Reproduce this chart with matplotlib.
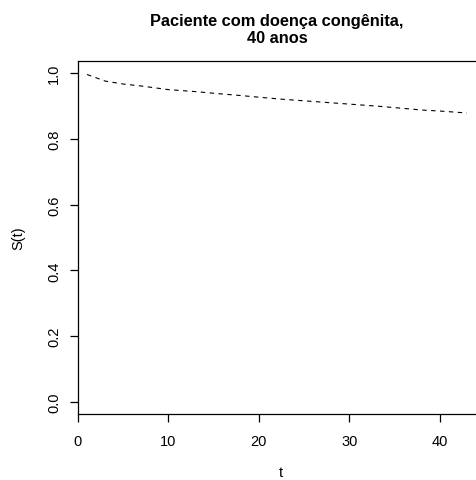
import matplotlib
matplotlib.use('Agg')
import matplotlib.pyplot as plt

plt.rcParams['font.family'] = ['Liberation Sans', 'DejaVu Sans']

# curva de sobrevivência
t = [1, 2, 3, 5, 7, 10, 13, 15, 18, 20, 22.5, 25, 28, 30, 33, 36, 38, 40, 43]
s = [0.995, 0.985, 0.975, 0.966, 0.960, 0.949, 0.943, 0.938, 0.931, 0.926,
     0.920, 0.915, 0.909, 0.905, 0.899, 0.892, 0.887, 0.884, 0.878]

xticks = [0, 10, 20, 30, 40]
yticks = [0.0, 0.2, 0.4, 0.6, 0.8, 1.0]

fig = plt.figure(figsize=(4.76, 4.81), dpi=100)
ax = fig.add_axes([78 / 476, 66 / 481, 398 / 476, 353 / 481])

ax.plot(t, s, color='black', lw=0.8, linestyle=(0, (4, 4)))

ax.set_xlim(0, 44)
ax.set_ylim(-0.0365, 1.036)
ax.set_xticks(xticks)
ax.set_xticklabels([str(v) for v in xticks])
ax.set_yticks(yticks)
ax.set_yticklabels(['%.1f' % v for v in yticks], rotation=90, va='center')

for side in ['left', 'bottom', 'top']:
    ax.spines[side].set_linewidth(0.9)
ax.spines['right'].set_visible(False)

ax.tick_params(axis='both', direction='out', length=5.8, width=0.9,
               labelsize=10.5, colors='black')
ax.tick_params(axis='x', pad=8.5)
ax.tick_params(axis='y', pad=6.5)

ax.set_xlabel('t', fontsize=10.5, va='center')
ax.xaxis.set_label_coords(0.51, -0.163)
ax.set_ylabel('S(t)', fontsize=10.5, va='center')
ax.yaxis.set_label_coords(-0.151, 0.5)

ax.set_title('Paciente com doença congênita,\n40 anos', fontsize=11.8,
             fontweight='bold', pad=14, linespacing=1.1)

fig.savefig('out.png', dpi=100)
